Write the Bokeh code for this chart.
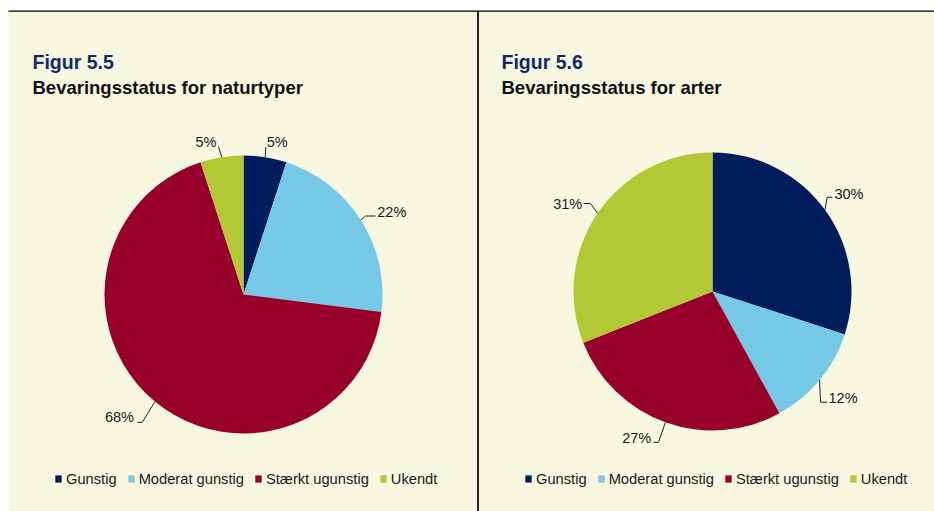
import math
from bokeh.plotting import figure
from bokeh.models import Range1d, Legend, LegendItem, ColumnDataSource
from bokeh.core.properties import value
from bokeh.embed import file_html
from bokeh.resources import INLINE

# ---------------- data ----------------
categories = ["Gunstig", "Moderat gunstig", "Stærkt ugunstig", "Ukendt"]
naturtyper = [5, 22, 68, 5]
arter = [30, 12, 27, 31]
titles = ["Figur 5.5", "Figur 5.6"]
subtitles = ["Bevaringsstatus for naturtyper", "Bevaringsstatus for arter"]

# ---------------- style ----------------
colors = ["#001d5b", "#75c9e7", "#96002b", "#b2c834"]
BG = "#f8f7df"
TITLE_COLOR = "#10296b"
TEXT_COLOR = "#1a1a1a"
FONT = "Liberation Sans"
W, H = 934, 511
R = 139


def Y(py):
    """page y (downwards) -> data y (upwards)"""
    return H - py


# per-panel layout: pie centre, title x, legend x, and leader-line layout per slice
# leader: (list of offsets from edge point for the polyline, text offset, align)
panels = [
    dict(values=naturtyper, cx=243, cy=294, tx=32, lx=54,
         leaders=[
             ([(0.5, -10)], (1.5, -15), "left"),
             ([(4.7, -4), (14.7, -4)], (16.4, -8), "left"),
             ([(-12.6, 20.7), (-17.6, 20.7)], (-21, 15.7), "right"),
             ([(-3.3, -10.7)], (-5.3, -15.4), "right"),
         ]),
    dict(values=arter, cx=712, cy=291, tx=501, lx=524,
         leaders=[
             ([(2.2, -12.6), (7.2, -12.6)], (9.5, -16), "left"),
             ([(0.9, 22.1), (7.6, 22.1)], (8.9, 17.4), "left"),
             ([(-6.9, 20), (-11.9, 20)], (-14.2, 15.8), "right"),
             ([(-7, -9.9), (-14, -9.9)], (-15.3, -9.1), "right"),
         ]),
]

p = figure(width=W, height=H, x_range=Range1d(0, W), y_range=Range1d(0, H),
           output_backend="svg", toolbar_location=None,
           x_axis_type=None, y_axis_type=None, min_border=0,
           background_fill_color=BG, border_fill_color=BG,
           outline_line_color=None)
p.xgrid.grid_line_color = None
p.ygrid.grid_line_color = None

# frame decorations: white margins, black rule, vertical divider
p.quad(left=0, right=W, bottom=Y(10), top=H, fill_color="white", line_color=None)
p.quad(left=0, right=8, bottom=0, top=H, fill_color="white", line_color=None)
p.segment(x0=8, y0=Y(10.6), x1=W, y1=Y(10.6), line_color="black", line_width=1.4)
p.segment(x0=477.5, y0=Y(10.6), x1=477.5, y1=0, line_color="black", line_width=1.7)

for k, panel in enumerate(panels):
    vals = panel["values"]
    total = float(sum(vals))
    fr = [v / total for v in vals]
    cum0, cum1 = [], []
    c = 0.0
    for f in fr:
        cum0.append(c)
        c += f
        cum1.append(c)
    src = ColumnDataSource(dict(
        start=[math.pi / 2 - 2 * math.pi * a for a in cum0],
        end=[math.pi / 2 - 2 * math.pi * b for b in cum1],
        color=colors,
        label=categories,
    ))
    cx, cy = panel["cx"], panel["cy"]
    r = p.wedge(x=cx, y=Y(cy), radius=R, start_angle="start", end_angle="end",
                direction="clock", fill_color="color", line_color=None, source=src)

    # labels with leader lines
    for i, f in enumerate(fr):
        m = (cum0[i] + cum1[i]) / 2 * 2 * math.pi
        ex = cx + R * math.sin(m)
        ey = cy - R * math.cos(m)
        pts, toff, align = panel["leaders"][i]
        xs = [ex] + [ex + d[0] for d in pts]
        ys = [Y(ey)] + [Y(ey + d[1]) for d in pts]
        p.line(xs, ys, line_color="#222222", line_width=1)
        p.text(x=[ex + toff[0]], y=[Y(ey + toff[1])], text=[f"{round(f * 100)}%"],
               text_font=value(FONT), text_font_size="14.5px", text_color=TEXT_COLOR,
               text_align=align, text_baseline="middle")

    # titles
    p.text(x=[panel["tx"]], y=[Y(61)], text=[titles[k]], text_font=value(FONT),
           text_font_size="19.5px", text_font_style="bold", text_color=TITLE_COLOR,
           text_align="left", text_baseline="alphabetic")
    p.text(x=[panel["tx"]], y=[Y(87)], text=[subtitles[k]], text_font=value(FONT),
           text_font_size="18.5px", text_font_style="bold", text_color="#111111",
           text_align="left", text_baseline="alphabetic")

    legend = Legend(
        items=[LegendItem(label=categories[i], renderers=[r], index=i) for i in range(4)],
        orientation="horizontal", location=(panel["lx"], 24),
        label_text_font=FONT, label_text_font_size="14.7px", label_text_color=TEXT_COLOR,
        glyph_width=8, glyph_height=9, label_standoff=4, spacing=10,
        padding=0, margin=0, border_line_color=None, background_fill_alpha=0,
        label_height=17,
    )
    p.add_layout(legend)

open("out.html", "w").write(file_html(p, INLINE))
